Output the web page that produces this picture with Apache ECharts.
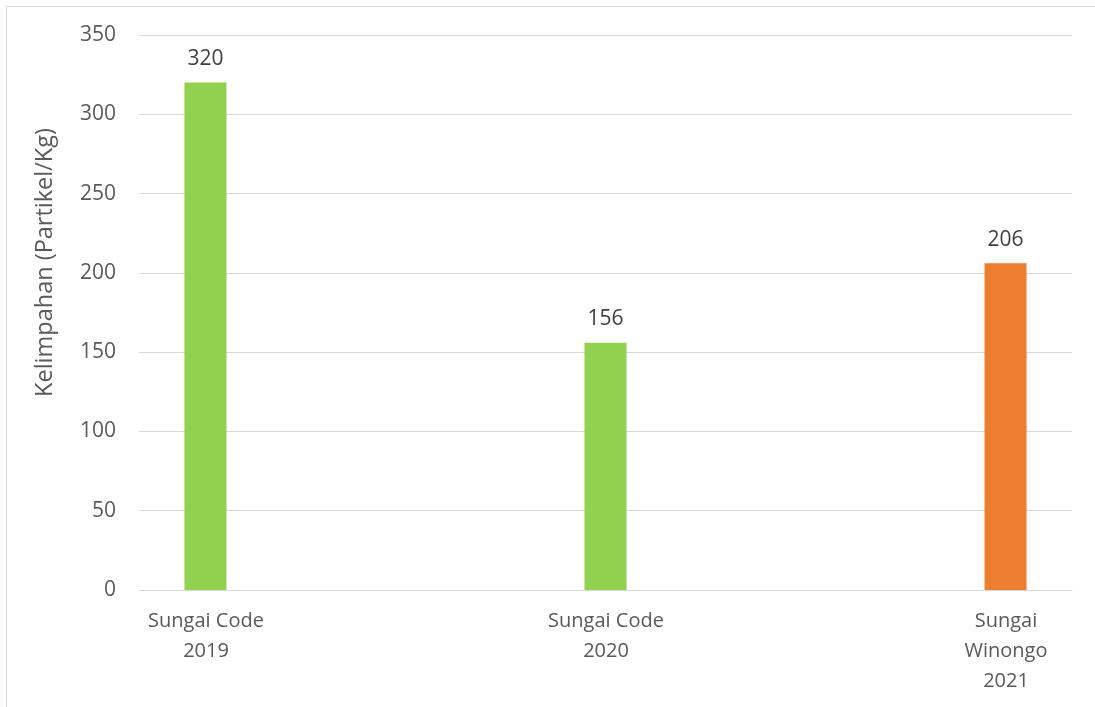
<!DOCTYPE html>
<html><head><meta charset="utf-8">
<script src="https://cdn.jsdelivr.net/npm/echarts@6/dist/echarts.min.js"></script>
<style>
html,body{margin:0;padding:0;background:#fff;}
#frame{position:absolute;left:6px;top:6px;width:1200px;height:800px;border:1px solid #d9d9d9;}
#c{position:absolute;left:0;top:0;width:1095px;height:707px;}
</style></head>
<body><div id="frame"></div><div id="c"></div>
<script>
const categories = ['Sungai Code\n2019', 'Sungai Code\n2020', 'Sungai\nWinongo\n2021'];
const seriesA = [320, null, null];
const seriesB = [null, 156, null];
const seriesC = [null, null, 206];
const colors = ['#92D050', '#92D050', '#ED7D31'];
const yTitle = 'Kelimpahan (Partikel/Kg)';

const font = '"Open Sans", sans-serif';
const chart = echarts.init(document.getElementById('c'));
const mk = (data, color) => ({
  type: 'bar', data: data, barWidth: 42, barGap: '112%',
  itemStyle: { color: color },
  label: { show: true, position: 'top', distance: 13, color: '#404040', fontSize: 21, fontFamily: font }
});
chart.setOption({
  animation: false,
  grid: [
    { left: 139, right: 23, top: 35, bottom: 117 },
    { left: 206, right: 89, top: 35, bottom: 117 }
  ],
  xAxis: [{
    type: 'category', data: categories, gridIndex: 0,
    axisLine: { lineStyle: { color: '#d9d9d9', width: 1 } },
    axisTick: { show: false },
    axisLabel: { show: false }
  }, {
    type: 'category', data: categories, gridIndex: 1, boundaryGap: false,
    axisLine: { show: false }, axisTick: { show: false },
    axisLabel: { color: '#595959', fontSize: 20, fontFamily: font, lineHeight: 30, margin: 16, interval: 0 }
  }],
  yAxis: [{
    type: 'value', min: 0, max: 350, interval: 50, gridIndex: 0,
    name: yTitle, nameLocation: 'middle', nameGap: 82, nameRotate: 90,
    nameTextStyle: { color: '#595959', fontSize: 23.5, fontFamily: font, padding: [0, 0, 0, 100] },
    axisLine: { show: false }, axisTick: { show: false },
    axisLabel: { color: '#595959', fontSize: 21, fontFamily: font, margin: 23 },
    splitLine: { lineStyle: { color: '#d9d9d9', width: 1 } }
  }, {
    type: 'value', min: 0, max: 350, gridIndex: 1, show: false
  }],
  series: [mk(seriesA, colors[0]), mk(seriesB, colors[1]), mk(seriesC, colors[2])]
});
</script></body></html>
